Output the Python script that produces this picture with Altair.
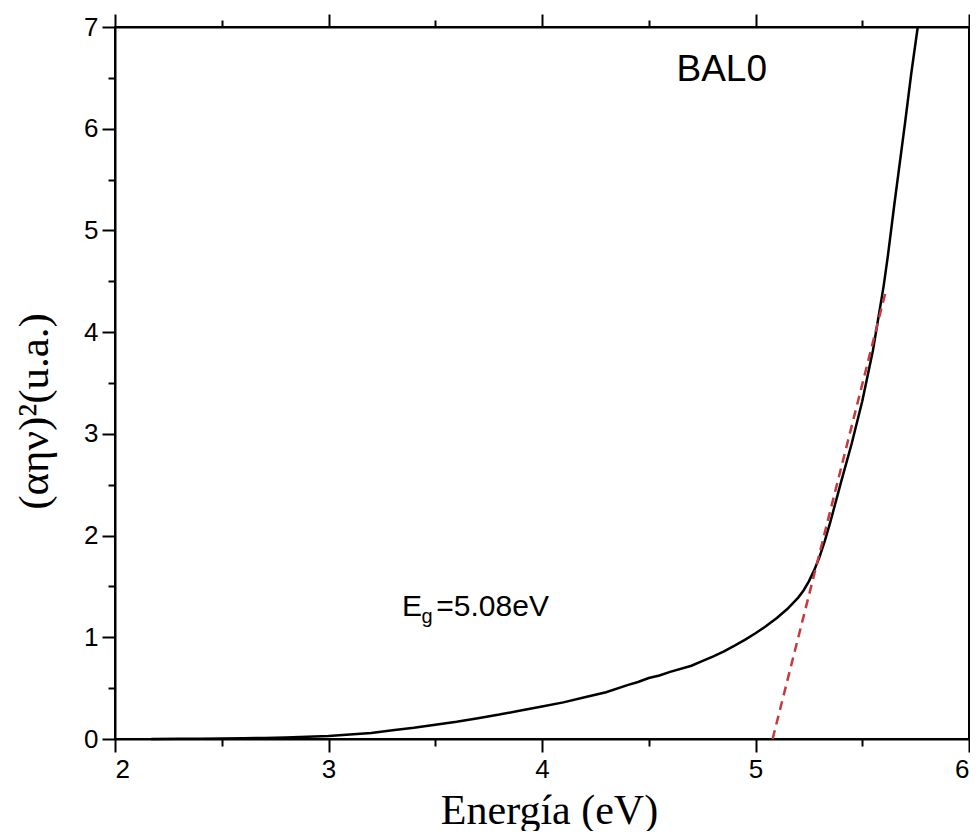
import altair as alt
import pandas as pd

# Curve data (Energy in eV, (αhν)^2 in a.u.)
energy = [2.17, 2.3, 2.4, 2.5, 2.6, 2.7, 2.8, 2.9, 3.0, 3.1, 3.2, 3.3, 3.4, 3.5,
          3.6, 3.7, 3.8, 3.9, 4.0, 4.1, 4.2, 4.3, 4.4, 4.45, 4.5, 4.55, 4.6, 4.7,
          4.75, 4.8, 4.85, 4.9, 4.95, 5.0, 5.05, 5.1, 5.15, 5.2, 5.225, 5.25,
          5.275, 5.3, 5.325, 5.35, 5.4, 5.45, 5.5, 5.55, 5.6, 5.62, 5.65, 5.7,
          5.73, 5.76]
absorb = [0.0, 0.002, 0.003, 0.005, 0.008, 0.011, 0.015, 0.022, 0.03, 0.045,
          0.06, 0.085, 0.11, 0.14, 0.17, 0.205, 0.24, 0.28, 0.32, 0.36, 0.41,
          0.46, 0.53, 0.56, 0.60, 0.625, 0.66, 0.72, 0.765, 0.81, 0.86, 0.915,
          0.975, 1.04, 1.11, 1.19, 1.28, 1.39, 1.46, 1.55, 1.66, 1.79, 1.95,
          2.13, 2.52, 2.90, 3.32, 3.82, 4.45, 4.75, 5.25, 6.05, 6.55, 7.0]

# Tangent (band-gap extrapolation) line
fit_x = [5.08, 5.61]
fit_y = [0.0, 4.4]

# Axis ticks
x_major = [2, 3, 4, 5, 6]
x_minor = [2.5, 3.5, 4.5, 5.5]
y_major = [0, 1, 2, 3, 4, 5, 6, 7]
y_minor = [0.5, 1.5, 2.5, 3.5, 4.5, 5.5, 6.5]

# Annotations
label_text = ["BAL0"]
label_x = [4.63]
label_y = [6.47]
eg_parts = ["E", "g", "=5.08eV"]
eg_x = [3.344, 3.436, 3.505]
eg_y = [1.21, 1.14, 1.21]

curve_df = pd.DataFrame({"x": energy, "y": absorb})
fit_df = pd.DataFrame({"x": fit_x, "y": fit_y})
lab_df = pd.DataFrame({"x": label_x, "y": label_y, "t": label_text})
e_df = pd.DataFrame({"x": eg_x[0:1], "y": eg_y[0:1], "t": eg_parts[0:1]})
g_df = pd.DataFrame({"x": eg_x[1:2], "y": eg_y[1:2], "t": eg_parts[1:2]})
v_df = pd.DataFrame({"x": eg_x[2:3], "y": eg_y[2:3], "t": eg_parts[2:3]})

xs = alt.Scale(domain=[2, 6], nice=False, zero=False)
ys = alt.Scale(domain=[0, 7], nice=False, zero=False)

SANS = "Liberation Sans"
SERIF = "Liberation Serif"

common_axis = dict(grid=False, domainColor="black", domainWidth=2,
                   tickColor="black", tickWidth=2, labelColor="black",
                   labelFont=SANS, labelFontSize=26)

curve = alt.Chart(curve_df).mark_line(color="black", strokeWidth=2.5).encode(
    x=alt.X("x:Q", scale=xs, axis=alt.Axis(
        orient="bottom", values=x_major, tickSize=13, labelPadding=4,
        title="Energía (eV)", titleFont=SERIF, titleFontSize=42,
        titleFontWeight="normal", titleColor="black", titlePadding=8,
        titleX=434, **common_axis)),
    y=alt.Y("y:Q", scale=ys, axis=alt.Axis(
        orient="left", values=y_major, tickSize=13, labelPadding=4,
        title="(αην)²(u.a.)", titleFont=SERIF, titleFontSize=43,
        titleFontWeight="normal", titleColor="black", titlePadding=27,
        titleY=384, **common_axis)),
)

fit = alt.Chart(fit_df).mark_line(color="#c8383c", strokeWidth=2.5,
                                  strokeDash=[9, 6]).encode(
    x=alt.X("x:Q", scale=xs, axis=alt.Axis(
        orient="bottom", values=x_minor, tickSize=7, labels=False,
        domain=False, title=None, **common_axis)),
    y=alt.Y("y:Q", scale=ys, axis=alt.Axis(
        orient="left", values=y_minor, tickSize=7, labels=False,
        domain=False, title=None, **common_axis)),
)

bal = alt.Chart(lab_df).mark_text(font=SANS, fontSize=37, align="left",
                                  baseline="alphabetic", color="black").encode(
    x=alt.X("x:Q", scale=xs, axis=alt.Axis(
        orient="top", values=x_major, tickSize=13, labels=False,
        title=None, **common_axis)),
    y=alt.Y("y:Q", scale=ys, axis=None),
    text="t:N",
)

e_txt = alt.Chart(e_df).mark_text(font=SANS, fontSize=30, align="left",
                                  baseline="alphabetic", color="black").encode(
    x=alt.X("x:Q", scale=xs, axis=alt.Axis(
        orient="top", values=x_minor, tickSize=7, labels=False,
        domain=False, title=None, **common_axis)),
    y=alt.Y("y:Q", scale=ys, axis=None),
    text="t:N",
)

g_txt = alt.Chart(g_df).mark_text(font=SANS, fontSize=20, align="left",
                                  baseline="alphabetic", color="black").encode(
    x=alt.X("x:Q", scale=xs, axis=None),
    y=alt.Y("y:Q", scale=ys, axis=None),
    text="t:N",
)

v_txt = alt.Chart(v_df).mark_text(font=SANS, fontSize=30, align="left",
                                  baseline="alphabetic", color="black").encode(
    x=alt.X("x:Q", scale=xs, axis=None),
    y=alt.Y("y:Q", scale=ys, axis=None),
    text="t:N",
)

chart = alt.layer(curve, fit, bal, e_txt, g_txt, v_txt).resolve_axis(
    x="independent", y="independent"
).properties(
    width=854, height=712,
    padding={"left": 5, "top": 5, "right": 0, "bottom": 0},
    background="white",
).configure_view(stroke="black", strokeWidth=2)

chart.save("out.html", embed_options={"renderer": "svg", "actions": False})
